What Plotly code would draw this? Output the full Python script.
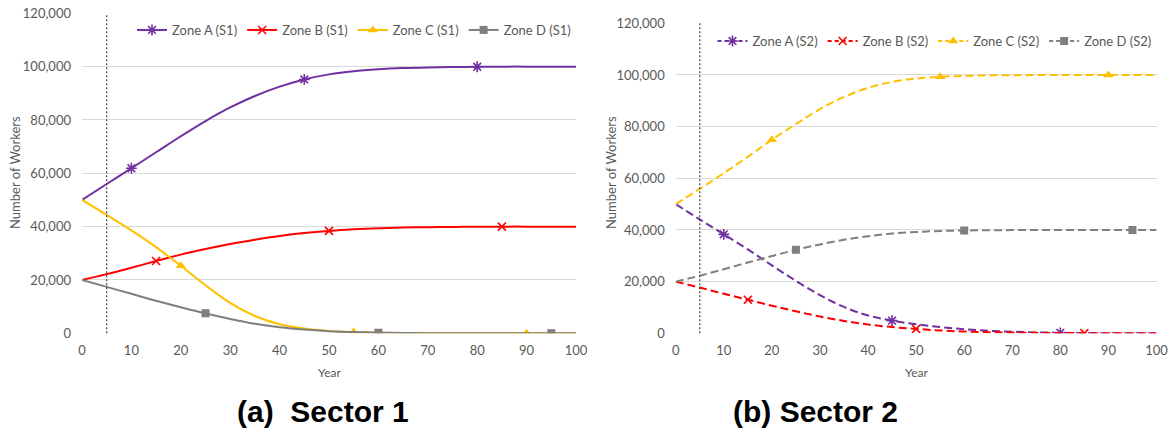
import plotly.graph_objects as go

# ---------------- data ----------------
years = [0, 5, 10, 15, 20, 25, 30, 35, 40, 45, 50, 55, 60, 65, 70, 75, 80, 85, 90, 95, 100]

s1_zone_a = [50000, 56000, 61900, 67900, 73900, 79600, 84700, 89000, 92500, 95200, 97100,
             98300, 99000, 99450, 99700, 99850, 99950, 100000, 100000, 100000, 100000]
s1_zone_b = [20000, 22200, 24600, 27100, 29500, 31600, 33500, 35100, 36500, 37600, 38400,
             39000, 39400, 39650, 39800, 39900, 39950, 40000, 40000, 40000, 40000]
s1_zone_c = [50000, 44400, 38600, 32300, 25300, 18000, 11400, 6500, 3400, 1800, 900,
             450, 200, 100, 50, 25, 10, 5, 0, 0, 0]
s1_zone_d = [20000, 17400, 14800, 12200, 9800, 7500, 5400, 3600, 2300, 1400, 800,
             450, 250, 120, 60, 30, 15, 5, 0, 0, 0]

s2_zone_a = [50000, 44100, 38300, 32500, 26300, 20300, 14800, 10200, 6900, 4900, 3500,
             2400, 1600, 1000, 600, 350, 200, 100, 50, 20, 0]
s2_zone_b = [20000, 17700, 15300, 13000, 10700, 8500, 6500, 4800, 3400, 2400, 1700,
             1100, 700, 450, 280, 170, 100, 50, 20, 10, 0]
s2_zone_c = [50000, 55900, 62000, 68300, 74900, 81000, 86800, 91500, 95000, 97300, 98600,
             99300, 99650, 99800, 99900, 99950, 100000, 100000, 100000, 100000, 100000]
s2_zone_d = [20000, 22300, 24800, 27400, 29900, 32300, 34400, 36200, 37600, 38600, 39200,
             39600, 39800, 39900, 39950, 40000, 40000, 40000, 40000, 40000, 40000]

marker_years_a = [10, 45, 80]
marker_years_b = [15, 50, 85]
marker_years_c = [20, 55, 90]
marker_years_d = [25, 60, 95]

zone_names = ["Zone A", "Zone B", "Zone C", "Zone D"]
x_ticks = [0, 10, 20, 30, 40, 50, 60, 70, 80, 90, 100]
y_ticks = [0, 20000, 40000, 60000, 80000, 100000, 120000]
captions = ["(a)\u00a0\u00a0Sector 1", "(b) Sector 2"]
vline_year = 5

# ---------------- styles ----------------
colors = ["#7030A0", "#FF0000", "#FFC000", "#7F7F7F"]
symbols = ["asterisk-open", "x-thin-open", "triangle-up", "square"]
msizes = [9, 8, 9, 8]
text_gray = "#595959"
grid_gray = "#D9D9D9"
FONT = "Lato, 'Open Sans', sans-serif"

fig = go.Figure()

panels = [
    dict(series=[s1_zone_a, s1_zone_b, s1_zone_c, s1_zone_d], tag="S1", dash="solid",
         xa="x", ya="y", legend="legend"),
    dict(series=[s2_zone_a, s2_zone_b, s2_zone_c, s2_zone_d], tag="S2", dash="8px,4px",
         xa="x2", ya="y2", legend="legend2"),
]
marker_years = [marker_years_a, marker_years_b, marker_years_c, marker_years_d]

for p in panels:
    for i, ser in enumerate(p["series"]):
        name = f"{zone_names[i]} ({p['tag']})"
        fig.add_trace(go.Scatter(
            x=years, y=ser, mode="lines", xaxis=p["xa"], yaxis=p["ya"],
            line=dict(color=colors[i], width=2, dash=p["dash"], shape="spline", smoothing=1),
            showlegend=False, hoverinfo="skip"))
        lookup = dict(zip(years, ser))
        mx = marker_years[i]
        my = [lookup[m] for m in mx]
        mline_w = 1.6 if symbols[i] in ("asterisk-open", "x-thin-open") else 0
        fig.add_trace(go.Scatter(
            x=mx, y=my, mode="markers", xaxis=p["xa"], yaxis=p["ya"],
            marker=dict(symbol=symbols[i], size=msizes[i], color=colors[i],
                        line=dict(color=colors[i], width=mline_w)),
            showlegend=False))
        fig.add_trace(go.Scatter(
            x=[None], y=[None], mode="lines+markers", name=name,
            xaxis=p["xa"], yaxis=p["ya"], legend=p["legend"],
            line=dict(color=colors[i], width=2, dash=("4px,3px" if p["tag"] == "S2" else "solid")),
            marker=dict(symbol=symbols[i], size=msizes[i], color=colors[i],
                        line=dict(color=colors[i], width=mline_w))))

axis_common = dict(
    showgrid=False, zeroline=False, showline=False, ticks="", automargin=False,
    tickfont=dict(family=FONT, size=13, color=text_gray),
)
yaxis_common = dict(
    range=[0, 120000], tickvals=y_ticks, tickformat=",", automargin=False,
    showgrid=True, gridcolor=grid_gray, gridwidth=1,
    zeroline=False, showline=False, ticks="", ticklabelstandoff=10,
    tickfont=dict(family=FONT, size=13, color=text_gray),
)

W, H = 1170, 434
L1, R1 = 82 / W, 576 / W
L2, R2 = 675.7 / W, 1156.5 / W
B = (H - 333.3) / H
T1 = (H - 13.3) / H
T2 = (H - 23.3) / H

fig.update_layout(
    width=W, height=H,
    margin=dict(l=0, r=0, t=0, b=0, autoexpand=False),
    paper_bgcolor="white", plot_bgcolor="white",
    font=dict(family=FONT, color=text_gray),
    xaxis=dict(domain=[L1, R1], anchor="y", range=[0, 100], tickvals=x_ticks,
               ticklabelstandoff=8, **axis_common),
    yaxis=dict(domain=[B, T1], anchor="x", **yaxis_common),
    xaxis2=dict(domain=[L2, R2], anchor="y2", range=[0, 100], tickvals=x_ticks,
                ticklabelstandoff=8, **axis_common),
    yaxis2=dict(domain=[B, T2], anchor="x2", **yaxis_common),
    legend=dict(orientation="h", x=R1, xanchor="right", y=(H - 30) / H, yanchor="middle",
                bgcolor="rgba(0,0,0,0)", font=dict(family=FONT, size=13, color=text_gray),
                itemwidth=30, tracegroupgap=0),
    legend2=dict(orientation="h", x=R2, xanchor="right", y=(H - 41) / H, yanchor="middle",
                 bgcolor="rgba(0,0,0,0)", font=dict(family=FONT, size=13, color=text_gray),
                 itemwidth=30, tracegroupgap=0),
    showlegend=True,
)

for xa, ya in (("x", "y"), ("x2", "y2")):
    fig.add_shape(type="line", xref=xa, yref=f"{ya} domain", x0=vline_year, x1=vline_year,
                  y0=0, y1=1, line=dict(color="#404040", width=1.2, dash="2px,2px"))

for xc in (15 / W, 611 / W):
    fig.add_annotation(text="Number of Workers", xref="paper", yref="paper",
                       x=xc, y=(H - 173) / H, textangle=-90, showarrow=False,
                       xanchor="center", yanchor="middle",
                       font=dict(family=FONT, size=13, color=text_gray))
for xc in ((L1 + R1) / 2, (L2 + R2) / 2):
    fig.add_annotation(text="Year", xref="paper", yref="paper",
                       x=xc, y=(H - 372) / H, showarrow=False,
                       xanchor="center", yanchor="middle",
                       font=dict(family=FONT, size=12, color=text_gray))

for txt, xc in zip(captions, (323 / W, 815 / W)):
    fig.add_annotation(text=f"<b>{txt}</b>", xref="paper", yref="paper",
                       x=xc, y=(H - 411) / H, showarrow=False,
                       xanchor="center", yanchor="middle",
                       font=dict(family="'Liberation Sans', Arial, sans-serif",
                                 size=30, color="black"))

fig.write_html("out.html",
               post_script="document.body.style.margin='0';document.body.style.overflow='hidden';")
